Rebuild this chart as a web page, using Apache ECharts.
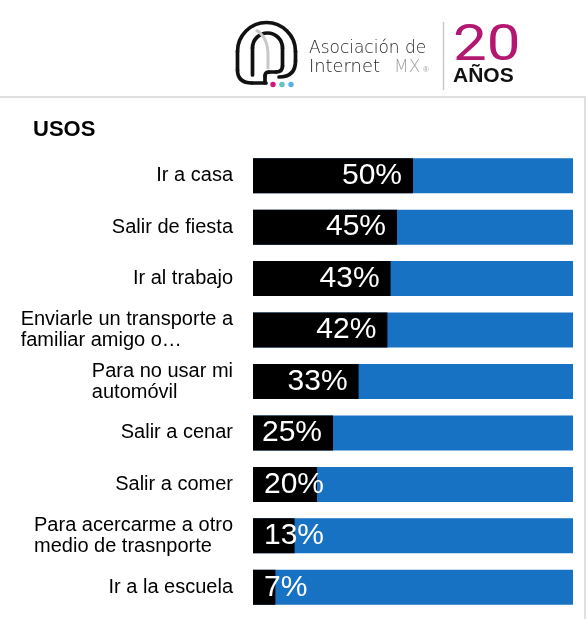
<!DOCTYPE html>
<html>
<head>
<meta charset="utf-8">
<script src="https://cdn.jsdelivr.net/npm/echarts@6/dist/echarts.min.js"></script>
<style>
html,body{margin:0;padding:0;background:#fff;}
#chart{width:587px;height:619px;}
</style>
</head>
<body>
<div id="chart"></div>
<script>
const title = 'USOS';
const categories = [
  'Ir a casa',
  'Salir de fiesta',
  'Ir al trabajo',
  'Enviarle un transporte a\nfamiliar amigo o…',
  'Para no usar mi\nautomóvil',
  'Salir a cenar',
  'Salir a comer',
  'Para acercarme a otro\nmedio de trasnporte',
  'Ir a la escuela'
];
const values = [50, 45, 43, 42, 33, 25, 20, 13, 7];
const axisMax = 100;

const FONT = '"Liberation Sans", Arial, sans-serif';
const LOGO_FONT = '"DejaVu Sans", sans-serif';
const chart = echarts.init(document.getElementById('chart'));

const seriesData = values.map(v => ({
  value: v,
  label: v >= 25 ? { position: 'insideRight', distance: 11 } : { position: 'insideLeft', distance: 11 }
}));

const ink = { stroke: '#111', lineWidth: 3.7, lineCap: 'round', fill: 'none' };
const seg = (type, shape, style) => ({ type, shape, style: Object.assign({}, style || ink), silent: true });

chart.setOption({
  animation: false,
  backgroundColor: '#ffffff',
  title: {
    text: title,
    left: 28, top: 114,
    textStyle: { fontFamily: FONT, fontSize: 22, fontWeight: 'bold', color: '#000' }
  },
  grid: { left: 253, right: 14, top: 150, bottom: 6, containLabel: false },
  xAxis: { type: 'value', min: 0, max: axisMax, show: false },
  yAxis: {
    type: 'category', data: categories, inverse: true,
    axisLine: { show: false }, axisTick: { show: false }, splitLine: { show: false },
    axisLabel: {
      margin: 20, fontFamily: FONT, fontSize: 20, color: '#000', align: 'right',
      formatter: v => v.split('\n').map(s => '{l|' + s + '}').join('\n'),
      rich: { l: { align: 'left', fontFamily: FONT, fontSize: 20, color: '#000', lineHeight: 21 } }
    }
  },
  series: [{
    type: 'bar',
    data: seriesData,
    barWidth: 35,
    itemStyle: { color: '#000000' },
    showBackground: true,
    backgroundStyle: { color: '#1872C4' },
    label: {
      show: true, formatter: '{c}%', color: '#ffffff',
      fontFamily: FONT, fontSize: 30
    }
  }],
  graphic: [
    // panel border
    { type: 'rect', shape: { x: -5, y: 97, width: 590, height: 540 }, style: { fill: 'none', stroke: '#d6d6d6', lineWidth: 1.5 }, silent: true },
    // logo icon - outer loop
    seg('arc', { cx: 266.5, cy: 51.5, r: 29, startAngle: Math.PI, endAngle: 2 * Math.PI, clockwise: true }),
    seg('line', { x1: 237.5, y1: 51.5, x2: 237.5, y2: 70 }),
    seg('bezierCurve', { x1: 237.5, y1: 70, cpx1: 237.5, cpy1: 83, x2: 252, y2: 83 }),
    seg('line', { x1: 252, y1: 83, x2: 266, y2: 83 }),
    seg('line', { x1: 295.5, y1: 51.5, x2: 295.5, y2: 61 }),
    seg('bezierCurve', { x1: 295.5, y1: 61, cpx1: 295.5, cpy1: 77, x2: 279, y2: 77 }),
    // inner arch
    seg('arc', { cx: 267.5, cy: 48, r: 15, startAngle: Math.PI, endAngle: 2 * Math.PI, clockwise: true }),
    seg('line', { x1: 252.5, y1: 48, x2: 252.5, y2: 75 }),
    seg('line', { x1: 282.5, y1: 48, x2: 282.5, y2: 66 }),
    seg('bezierCurve', { x1: 282.5, y1: 66, cpx1: 282.5, cpy1: 72, x2: 276, y2: 72 }),
    seg('line', { x1: 276, y1: 72, x2: 269, y2: 72 }),
    seg('bezierCurve', { x1: 269, y1: 72, cpx1: 265, cpy1: 72, x2: 265, y2: 76 }),
    seg('line', { x1: 265, y1: 76, x2: 265, y2: 83 }),
    // grey stroke
    seg('bezierCurve', { x1: 256, y1: 30, cpx1: 268, cpy1: 37, x2: 268, y2: 55 }, { stroke: '#c8c8c8', lineWidth: 3, fill: 'none' }),
    seg('line', { x1: 268, y1: 55, x2: 268, y2: 69 }, { stroke: '#c8c8c8', lineWidth: 3, fill: 'none' }),
    { type: 'circle', shape: { cx: 273, cy: 84.5, r: 2.7 }, style: { fill: '#d1167a' } },
    { type: 'circle', shape: { cx: 282, cy: 84.5, r: 2.7 }, style: { fill: '#5fc2c4' } },
    { type: 'circle', shape: { cx: 291, cy: 84.5, r: 2.7 }, style: { fill: '#5aaee3' } },
    { type: 'text', x: 309, y: 57, style: { text: 'Asociación de', fontFamily: LOGO_FONT, fontWeight: 200, fontSize: 17, fill: '#1e1e1e', verticalAlign: 'bottom' } },
    { type: 'text', x: 309, y: 76, scaleX: 1.05, style: { text: 'Internet', fontFamily: LOGO_FONT, fontWeight: 200, fontSize: 17, fill: '#1e1e1e', verticalAlign: 'bottom' } },
    { type: 'text', x: 394, y: 76, style: { text: 'MX', fontFamily: LOGO_FONT, fontWeight: 200, fontSize: 17, fill: '#a0a0a0', verticalAlign: 'bottom' } },
    { type: 'text', x: 423, y: 74, style: { text: '®', fontFamily: FONT, fontSize: 8, fill: '#a0a0a0', verticalAlign: 'bottom' } },
    { type: 'line', shape: { x1: 443.5, y1: 22, x2: 443.5, y2: 90 }, style: { stroke: '#c8c8c8', lineWidth: 1.5 } },
    { type: 'text', x: 453, y: 22, scaleX: 1.2, style: { text: '20', fontFamily: 'Roboto, sans-serif', fontWeight: 400, fontSize: 50, fill: '#B3176F' } },
    { type: 'text', x: 453, y: 66, style: { text: 'AÑOS', fontFamily: FONT, fontWeight: 'bold', fontSize: 21, fill: '#111' } }
  ]
});
</script>
</body>
</html>
